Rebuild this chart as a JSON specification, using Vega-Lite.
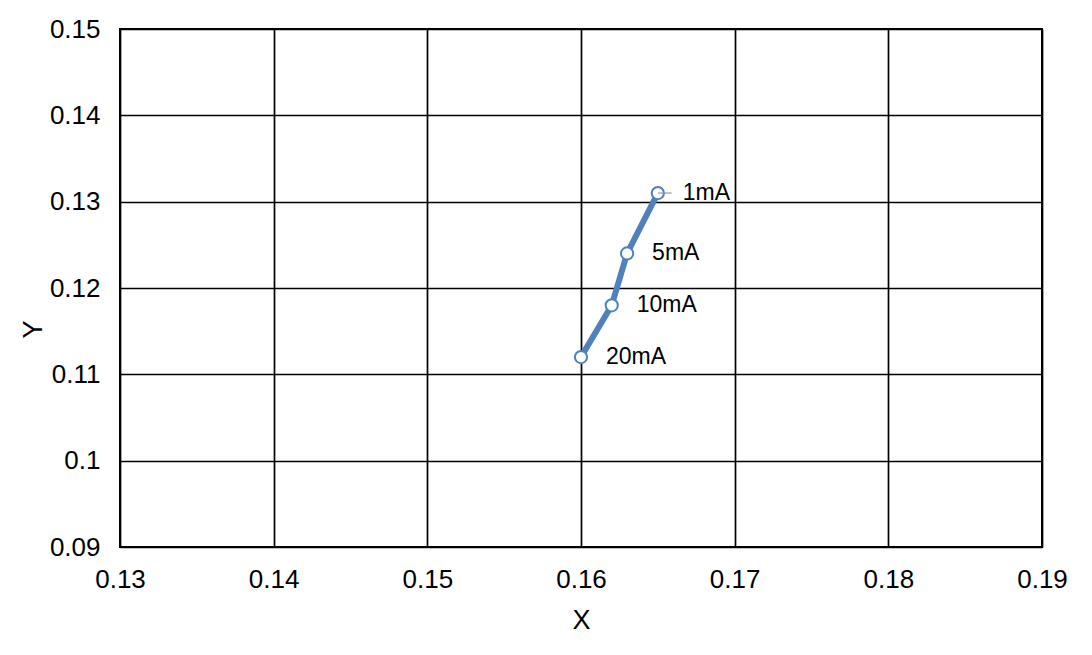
{
  "$schema": "https://vega.github.io/schema/vega-lite/v6.json",
  "width": 922,
  "height": 518,
  "autosize": {"type": "none"},
  "padding": {"left": 120, "top": 29, "right": 50, "bottom": 108},
  "background": "white",
  "config": {
    "font": "Liberation Sans",
    "view": {"stroke": "black", "strokeWidth": 2},
    "axis": {
      "grid": true,
      "gridColor": "black",
      "gridWidth": 1.7,
      "gridOpacity": 1,
      "ticks": false,
      "domain": false,
      "labelFont": "Liberation Sans",
      "labelFontSize": 26,
      "labelColor": "black",
      "labelFlush": false,
      "labelOverlap": false,
      "titleFont": "Liberation Sans",
      "titleFontSize": 27,
      "titleFontWeight": "normal",
      "titleColor": "black"
    }
  },
  "data": {
    "values": [
      {"X": 0.165, "Y": 0.131, "label": "1mA", "order": 1},
      {"X": 0.163, "Y": 0.124, "label": "5mA", "order": 2},
      {"X": 0.162, "Y": 0.118, "label": "10mA", "order": 3},
      {"X": 0.160, "Y": 0.112, "label": "20mA", "order": 4}
    ]
  },
  "encoding": {
    "x": {
      "field": "X", "type": "quantitative",
      "scale": {"domain": [0.13, 0.19], "nice": false, "zero": false},
      "axis": {"values": [0.13, 0.14, 0.15, 0.16, 0.17, 0.18, 0.19], "format": "~g", "labelPadding": 19, "title": "X", "titleY": 73, "titleBaseline": "middle", "titleAnchor": "middle"}
    },
    "y": {
      "field": "Y", "type": "quantitative",
      "scale": {"domain": [0.09, 0.15], "nice": false, "zero": false},
      "axis": {"values": [0.09, 0.10, 0.11, 0.12, 0.13, 0.14, 0.15], "format": "~g", "labelPadding": 20, "title": "Y", "titleX": -87, "titleY": 300, "titleAngle": -90, "titleBaseline": "middle", "titleAlign": "center", "titleAnchor": null}
    }
  },
  "layer": [
    {
      "mark": {"type": "line", "color": "#4F81BD", "strokeWidth": 6},
      "encoding": {"order": {"field": "order"}}
    },
    {
      "mark": {"type": "point", "filled": true, "fill": "white", "stroke": "#4F81BD", "strokeWidth": 2, "size": 150, "opacity": 1}
    },
    {
      "transform": [{"filter": "datum.order == 1"}],
      "mark": {"type": "rule", "color": "#999999", "strokeWidth": 1.2},
      "encoding": {
        "x": {"field": "X", "type": "quantitative"},
        "x2": {"datum": 0.1659},
        "y": {"field": "Y", "type": "quantitative"}
      }
    },
    {
      "mark": {"type": "text", "align": "left", "baseline": "middle", "dx": 25, "fontSize": 23, "color": "black", "font": "Liberation Sans"},
      "encoding": {"text": {"field": "label"}}
    }
  ]
}
